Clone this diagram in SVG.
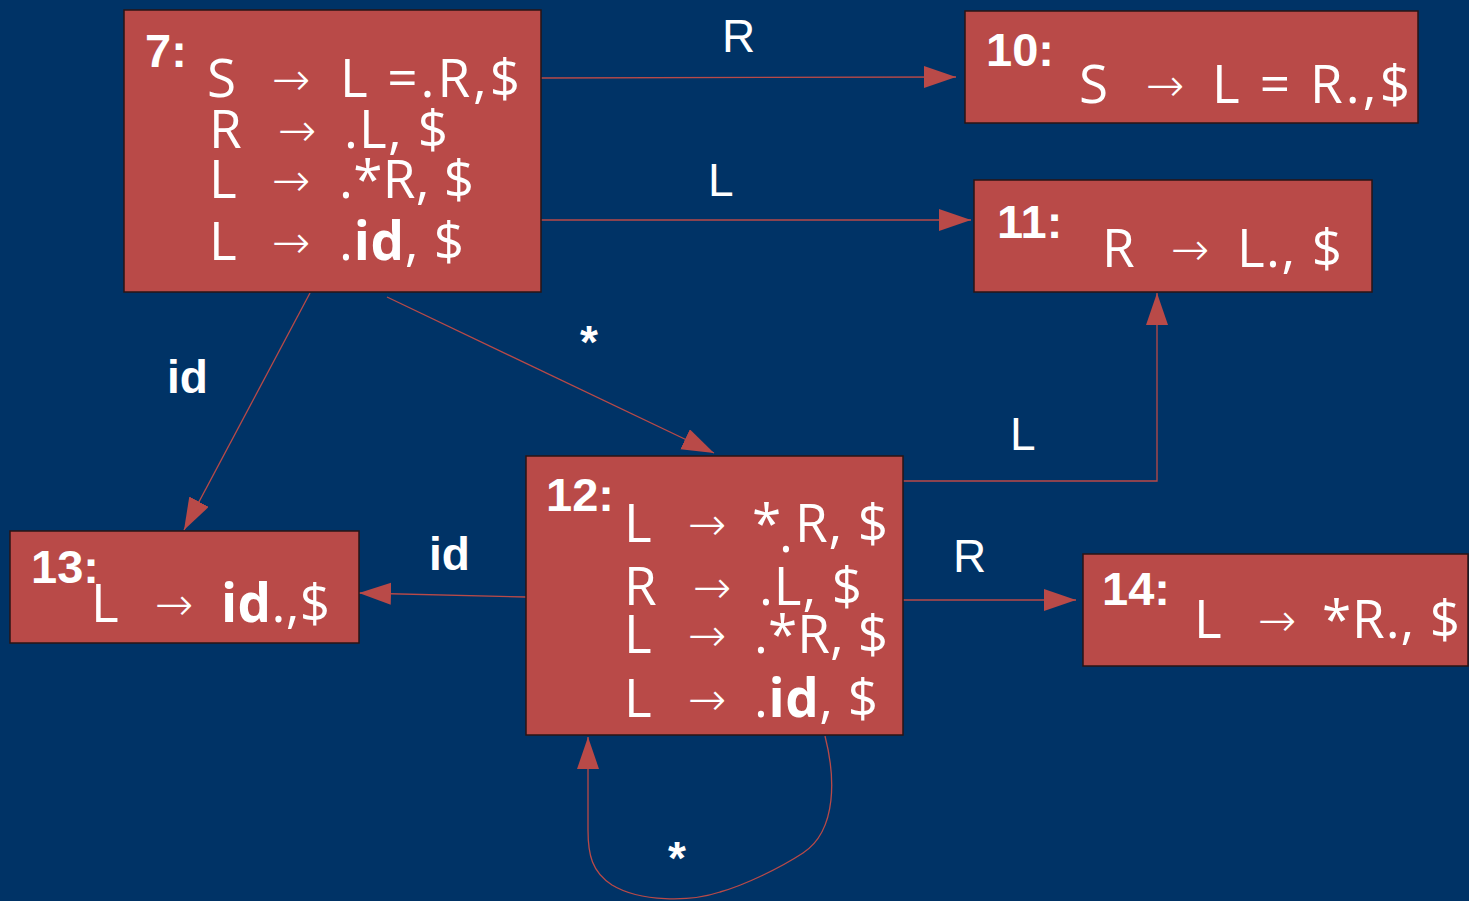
<svg xmlns="http://www.w3.org/2000/svg" width="1469" height="901" viewBox="0 0 1469 901">
<defs>
<marker id="ah" markerUnits="userSpaceOnUse" markerWidth="34" markerHeight="24" refX="32" refY="11" orient="auto">
<path d="M0,0 L32,11 L0,22 z" fill="#B94A48"/>
</marker>
<style>
.box{fill:#B94A48;stroke:#2a1414;stroke-width:1.5}
.num{font-family:"Liberation Sans",Arial,sans-serif;font-weight:bold;font-size:47px;fill:#fff}
.r{font-family:"Open Sans","DejaVu Sans",sans-serif;font-size:53px;fill:#fff}
.b{font-weight:bold}
.ar{font-family:"DejaVu Sans",sans-serif;font-weight:200;font-size:46px;fill:#fff}
.el{font-family:"Liberation Sans",Arial,sans-serif;font-size:46px;fill:#fff}
.eb{font-family:"Liberation Sans",Arial,sans-serif;font-size:46px;font-weight:bold;fill:#fff}
.c{fill:none;stroke:#B94A48;stroke-width:1.3;marker-end:url(#ah)}
</style>
</defs>
<rect x="0" y="0" width="1469" height="901" fill="#003366"/>

<g id="connectors">
<path class="c" d="M541,78 L956,77"/>
<path class="c" d="M541,220 L971,220"/>
<path class="c" d="M310,293 L184,530"/>
<path class="c" d="M387,297 L714,453"/>
<path class="c" d="M526,597 L359,593"/>
<path class="c" d="M903,481 L1157,481 L1157,293"/>
<path class="c" d="M903,600 L1076,600"/>
<path class="c" d="M825,736 C835,775 838,830 803,853 C780,868 745,885 720,892 C690,902 640,902 612,885 C592,872 588,855 588,830 L588,737"/>
<text class="el" x="722" y="52">R</text>
<text class="el" x="708" y="196">L</text>
<text class="eb" x="580" y="358">*</text>
<text class="eb" x="167" y="393">id</text>
<text class="eb" x="429" y="570">id</text>
<text class="el" x="1010" y="450">L</text>
<text class="el" x="953" y="572">R</text>
<text class="eb" x="668" y="874">*</text>
</g>

<g id="node7">
<rect class="box" x="124" y="10" width="417" height="282"/>
<text class="num" x="145" y="67">7:</text>
<text class="r" x="207" y="97">S</text><text class="ar" x="272" y="95">→</text><text class="r" x="340" y="97" textLength="180" lengthAdjust="spacing">L =.R,$</text>
<text class="r" x="209" y="148">R</text><text class="ar" x="278" y="146">→</text><text class="r" x="344" y="148" textLength="104" lengthAdjust="spacing">.L, $</text>
<text class="r" x="209" y="198">L</text><text class="ar" x="272" y="196">→</text><text class="r" x="339" y="198" textLength="135" lengthAdjust="spacing">.*R, $</text>
<text class="r" x="209" y="260">L</text><text class="ar" x="272" y="258">→</text><text class="r" x="339" y="260" textLength="125" lengthAdjust="spacing">.<tspan class="b">id</tspan>, $</text>
</g>

<g id="node10">
<rect class="box" x="965" y="11" width="453" height="112"/>
<text class="num" x="986" y="66">10:</text>
<text class="r" x="1079" y="103">S</text><text class="ar" x="1146" y="101">→</text><text class="r" x="1212" y="103" textLength="198" lengthAdjust="spacing">L = R.,$</text>
</g>

<g id="node11">
<rect class="box" x="974" y="180" width="398" height="112"/>
<text class="num" x="997" y="238">11:</text>
<text class="r" x="1102" y="267">R</text><text class="ar" x="1171" y="265">→</text><text class="r" x="1237" y="267" textLength="105" lengthAdjust="spacing">L., $</text>
</g>

<g id="node12">
<rect class="box" x="526" y="456" width="377" height="279"/>
<text class="num" x="546" y="511">12:</text>
<text class="r" x="624" y="542">L</text><text class="ar" x="688" y="540">→</text><text class="r" x="752" y="542">*</text><text class="r" x="779" y="552">.</text><text class="r" x="795" y="542" textLength="93" lengthAdjust="spacing">R, $</text>
<text class="r" x="624" y="605">R</text><text class="ar" x="693" y="603">→</text><text class="r" x="759" y="605" textLength="103" lengthAdjust="spacing">.L, $</text>
<text class="r" x="624" y="653">L</text><text class="ar" x="688" y="651">→</text><text class="r" x="754" y="653" textLength="134" lengthAdjust="spacing">.*R, $</text>
<text class="r" x="624" y="717">L</text><text class="ar" x="688" y="715">→</text><text class="r" x="754" y="717" textLength="124" lengthAdjust="spacing">.<tspan class="b">id</tspan>, $</text>
</g>

<g id="node13">
<rect class="box" x="10" y="531" width="349" height="112"/>
<text class="num" x="31" y="583">13:</text>
<text class="r" x="91" y="622">L</text><text class="ar" x="155" y="620">→</text><text class="r" x="221" y="622" textLength="109" lengthAdjust="spacing"><tspan class="b">id</tspan>.,$</text>
</g>

<g id="node14">
<rect class="box" x="1083" y="554" width="385" height="112"/>
<text class="num" x="1102" y="605">14:</text>
<text class="r" x="1194" y="638">L</text><text class="ar" x="1258" y="636">→</text><text class="r" x="1322" y="638" textLength="138" lengthAdjust="spacing">*R., $</text>
</g>
</svg>
